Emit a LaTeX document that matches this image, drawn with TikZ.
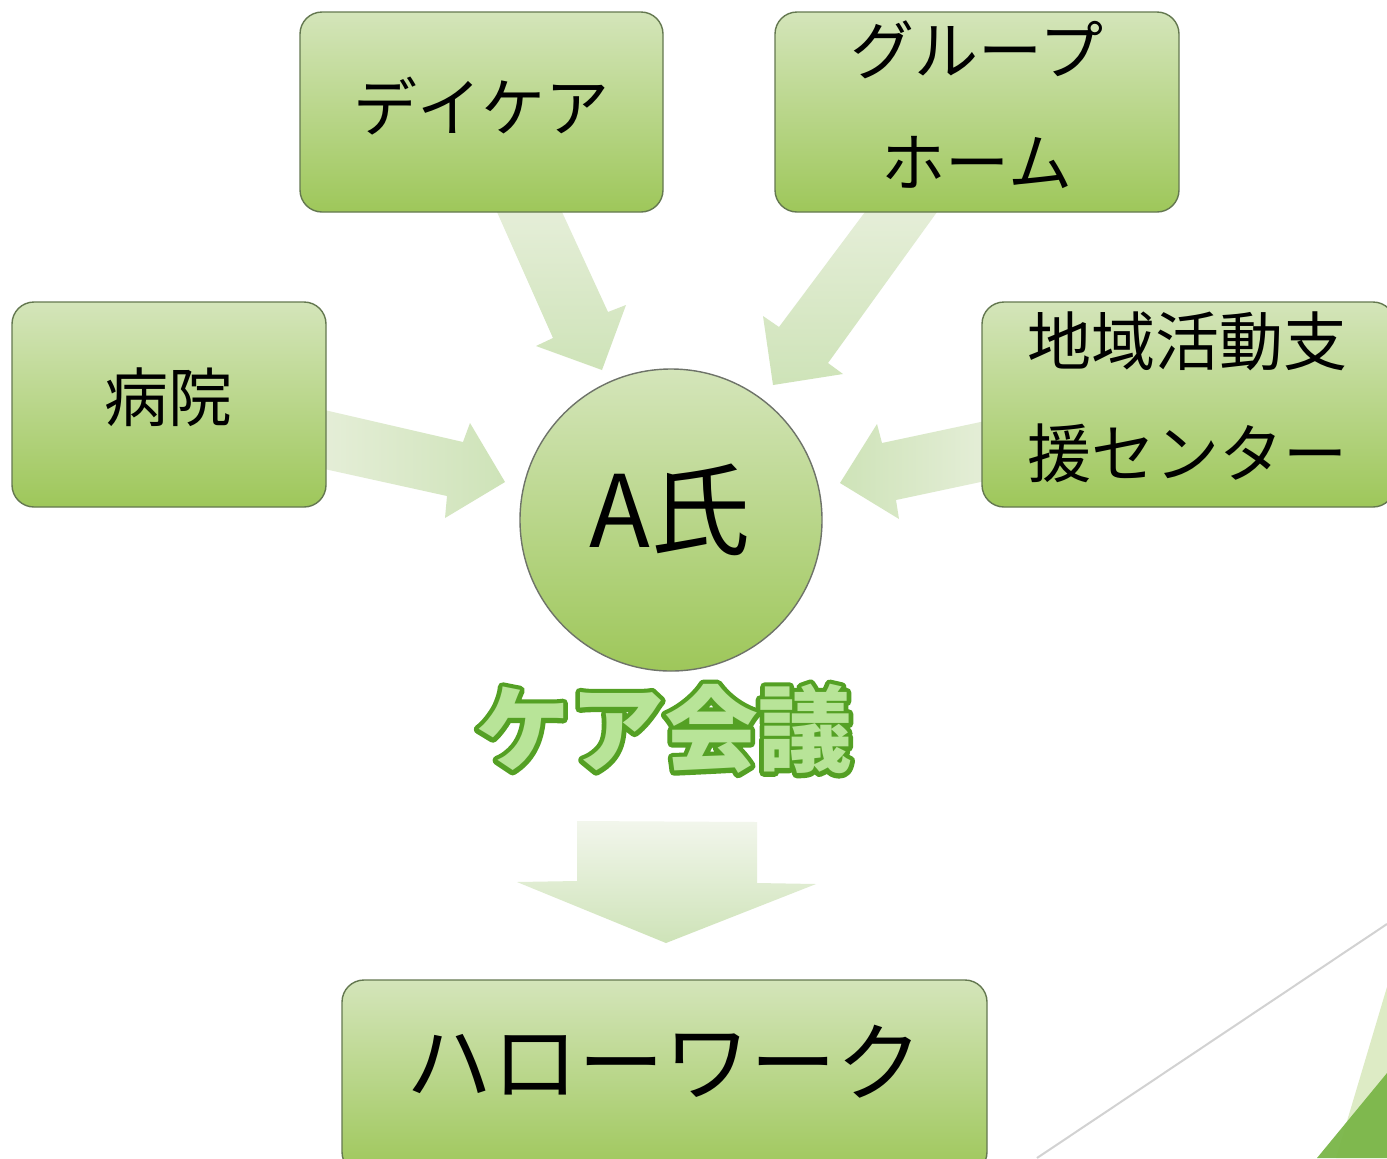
\documentclass[tikz,border=0pt]{standalone}
\usepackage{fontspec}
\newfontfamily\jp{Noto Sans CJK JP}
\newfontfamily\jpfat{Noto Sans CJK JP}[BoldFeatures={FakeBold=10}]
\definecolor{boxtop}{RGB}{212,229,186}
\definecolor{boxbot}{RGB}{158,199,90}
\definecolor{boxline}{RGB}{100,120,80}
\definecolor{circline}{RGB}{110,115,105}
\definecolor{arrlight}{RGB}{229,238,216}
\definecolor{arrdark}{RGB}{206,227,184}
\definecolor{arrtop}{RGB}{242,246,236}
\definecolor{kgfill}{RGB}{184,228,152}
\definecolor{kgline}{RGB}{84,160,36}
\definecolor{declight}{RGB}{221,235,197}
\definecolor{decdark}{RGB}{122,182,72}
\definecolor{decgray}{RGB}{210,210,210}
\newcommand\outlinetext[3]{%
  \rlap{\textcolor{#1}{\jpfat\bfseries #3}}%
  \textcolor{#2}{\jp\bfseries #3}}
\tikzset{
  gbox/.style={draw=boxline, line width=0.7pt, rounded corners=11pt,
    top color=boxtop, bottom color=boxbot, inner sep=0pt},
  gcirc/.style={circle, draw=circline, line width=0.7pt,
    top color=boxtop, bottom color=boxbot, inner sep=0pt, minimum size=151pt},
  lbl/.style={font=\jp\fontsize{32}{38}\selectfont, inner sep=0pt, text=black},
  biglbl/.style={font=\jp\fontsize{43}{50}\selectfont, inner sep=0pt, text=black},
  alabel/.style={font=\jp\fontsize{50}{56}\selectfont, inner sep=0pt, text=black},
  kglabel/.style={font=\fontsize{47}{54}\selectfont, inner sep=0pt, line join=round},
  vshaft/.style={top color=arrlight, bottom color=arrdark},
  lshaft/.style={left color=arrlight, right color=arrdark},
  rshaft/.style={right color=arrlight, left color=arrdark},
}
\begin{document}
\begin{tikzpicture}[x=0.5pt,y=-0.5pt]
\useasboundingbox (0,0) rectangle (1387,1158);
\clip (0,0) rectangle (1387,1158);
\fill[white] (0,0) rectangle (1387,1158);

% block arrows
\shade[vshaft] (497,212) -- (553,338) -- (536,346) -- (602,370) -- (626,305) -- (608,312) -- (562,212) -- cycle;
\shade[vshaft] (865,212) -- (779,327) -- (763,316) -- (773,385) -- (843,374) -- (828,363) -- (937,212) -- cycle;
\shade[lshaft] (320,409) -- (463,442) -- (470,423) -- (505,482) -- (445,518) -- (447,496) -- (320,468) -- cycle;
\shade[rshaft] (990,420) -- (882,443) -- (877,424) -- (840,483) -- (899,519) -- (896,500) -- (990,480) -- cycle;
\shade[top color=arrtop, bottom color=arrdark] (577,821) -- (757,822) -- (757,883) -- (816,884) -- (666,943) -- (517,882) -- (577,881) -- cycle;

% boxes
\node[gbox, minimum width=181.5pt, minimum height=100pt] (dc) at (481.5,112) {};
\node[gbox, minimum width=202pt, minimum height=100pt] (gh) at (977,112) {};
\node[gbox, minimum width=157pt, minimum height=102.5pt] (hp) at (169,404.5) {};
\node[gbox, minimum width=206.5pt, minimum height=102.5pt] (ck) at (1188.5,404.5) {};
\node[gbox, minimum width=322.5pt, minimum height=97pt] (hw) at (664.5,1077) {};
\node[gcirc] (ashi) at (671,520) {};

% labels
\node[lbl] (dct) at (481,106) {デイケア};
\node[lbl] (gh1) at (977,50) {グループ};
\node[lbl] (gh2) at (977,162) {ホーム};
\node[lbl] (hpt) at (168,397) {病院};
\node[lbl] (ck1) at (1187,341) {地域活動支};
\node[lbl] (ck2) at (1187,453) {援センター};
\node[biglbl] (hwt) at (664,1062) {ハローワーク};
\node[alabel] (ashit) at (670,510) {A氏};
\node[kglabel] (kaigi) at (664,729) {\outlinetext{kgline}{kgfill}{ケア会議}};

% corner decoration
\draw[decgray, line width=1pt] (1037,1158) -- (1387,924);
\fill[declight] (1387,987) -- (1387,1158) -- (1336,1158) -- cycle;
\fill[decdark, opacity=0.95] (1387,1073) -- (1387,1158) -- (1317,1158) -- cycle;
\end{tikzpicture}
\end{document}
